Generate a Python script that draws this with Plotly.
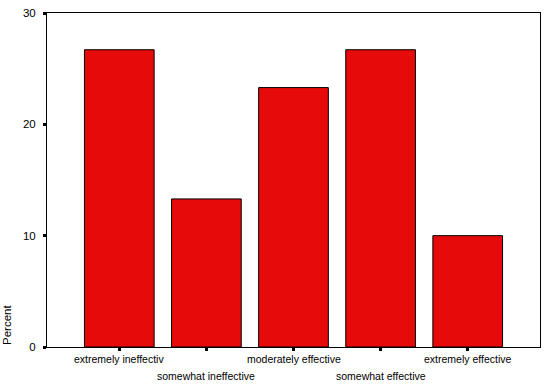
import plotly.graph_objects as go

categories = ["extremely ineffectiv", "somewhat ineffective", "moderately effective",
              "somewhat effective", "extremely effective"]
percent = [26.7, 13.3, 23.3, 26.7, 10.0]
y_ticks = [0, 10, 20, 30]

x_pos = list(range(len(categories)))

fig = go.Figure()
fig.add_trace(go.Bar(
    x=x_pos, y=percent, width=0.8,
    marker=dict(color="rgb(230,10,10)", line=dict(color="black", width=1)),
))

annotations = []
for i, c in enumerate(categories):
    annotations.append(dict(
        x=i, y=0, xref="x", yref="paper", text=c, showarrow=False,
        xanchor="center", yanchor="top", yshift=-4 if i % 2 == 0 else -21,
        font=dict(family="Liberation Sans, Arial", size=10.5, color="black"),
    ))
annotations.append(dict(
    x=0, y=0, xref="paper", yref="paper", text="Percent", textangle=-90,
    showarrow=False, xanchor="center", yanchor="middle", xshift=-40, yshift=22,
    font=dict(family="Liberation Sans, Arial", size=11.5, color="black"),
))

fig.update_layout(
    width=555, height=384,
    margin=dict(l=47, r=15, t=13, b=37, autoexpand=False),
    paper_bgcolor="white", plot_bgcolor="white",
    showlegend=False,
    bargap=0.2,
    annotations=annotations,
    font=dict(family="Liberation Sans, Arial", color="black"),
    xaxis=dict(range=[-0.83, 4.83], tickvals=x_pos, ticktext=[""] * len(categories),
               ticks="outside", ticklen=3, tickwidth=3, tickcolor="black",
               showline=True, linecolor="black", linewidth=1, mirror=True,
               showgrid=False, zeroline=False, automargin=False),
    yaxis=dict(range=[0, 30], tickvals=y_ticks, ticks="outside", ticklen=3, tickwidth=3,
               tickcolor="black", showline=True, linecolor="black", linewidth=1,
               mirror=True, showgrid=False, zeroline=False, automargin=False,
               ticklabelstandoff=5,
               tickfont=dict(family="Liberation Sans, Arial", size=11.5, color="black")),
)

fig.write_html("out.html")
